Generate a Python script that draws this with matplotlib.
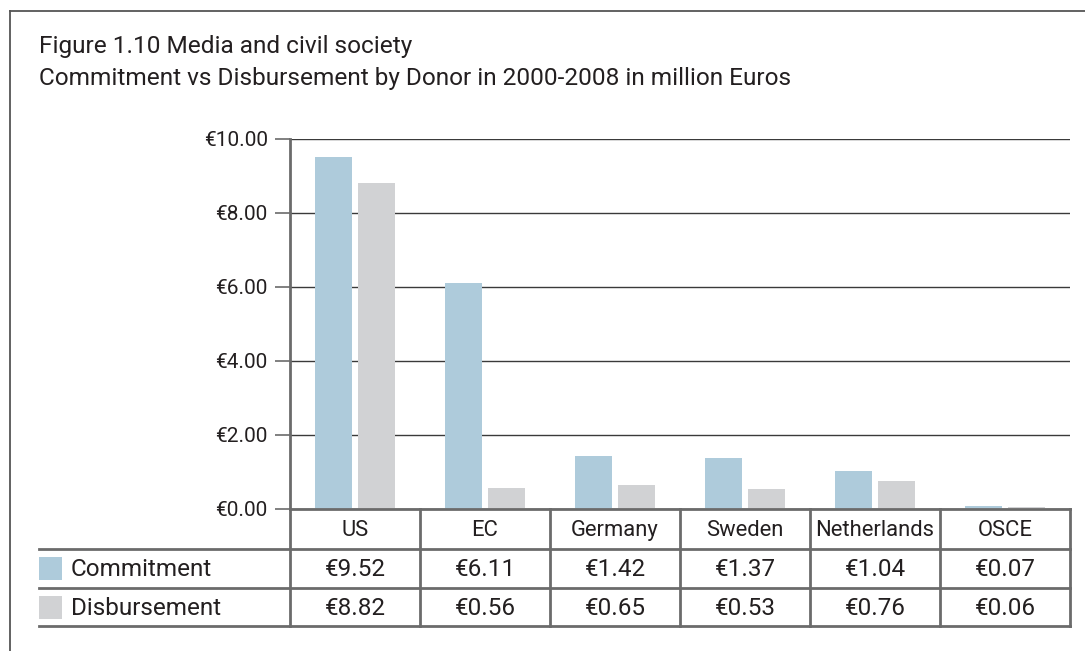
import matplotlib
matplotlib.use("Agg")
import matplotlib.pyplot as plt
from matplotlib.patches import Rectangle
from matplotlib.lines import Line2D

donors = ["US", "EC", "Germany", "Sweden", "Netherlands", "OSCE"]
commitment = [9.52, 6.11, 1.42, 1.37, 1.04, 0.07]
disbursement = [8.82, 0.56, 0.65, 0.53, 0.76, 0.06]
series_names = ["Commitment", "Disbursement"]
yticks = [0, 2, 4, 6, 8, 10]
title1 = "Figure 1.10 Media and civil society"
title2 = "Commitment vs Disbursement by Donor in 2000-2008 in million Euros"

plt.rcParams['font.family'] = ['Roboto', 'DejaVu Sans']
C_COL = "#aecbdb"
D_COL = "#d1d2d4"
LINE = "#6b6b6b"
TXT = "#231f20"

W, H = 1085, 651
fig = plt.figure(figsize=(W / 100, H / 100), dpi=100)

def fx(px):
    return px / W

def fy(py):
    return 1 - py / H

ax_l, ax_r, ax_t, ax_b = 290, 1070, 139, 509
ax = fig.add_axes([fx(ax_l), fy(ax_b), (ax_r - ax_l) / W, (ax_b - ax_t) / H])

n = len(donors)
xs = list(range(n))
bw = 0.29
off = 0.165
ax.bar([x - off for x in xs], commitment, width=bw, color=C_COL, zorder=3)
ax.bar([x + off for x in xs], disbursement, width=bw, color=D_COL, zorder=3)
ax.set_xlim(-0.5, n - 0.5)
ax.set_ylim(0, 10)
ax.set_yticks(yticks)
ax.set_yticklabels([f"€{v:.2f}" for v in yticks], fontsize=15, color=TXT)
ax.yaxis.grid(True, color="#3a3a3a", linewidth=1.0, zorder=0)
ax.set_axisbelow(True)
ax.tick_params(axis='y', length=11, width=1.2, color=LINE, pad=5)
ax.set_xticks([])
for s in ["top", "right", "bottom"]:
    ax.spines[s].set_visible(False)
ax.spines["left"].set_color(LINE)
ax.spines["left"].set_linewidth(2)

# table lines (figure coordinates)
def hline(y, x0, x1, lw=2):
    fig.add_artist(Line2D([fx(x0), fx(x1)], [fy(y), fy(y)], color=LINE, lw=lw))

def vline(x, y0, y1, lw=2):
    fig.add_artist(Line2D([fx(x), fx(x)], [fy(y0), fy(y1)], color=LINE, lw=lw))

rows = [509, 549, 588, 626]
col_w = (ax_r - ax_l) / n
hline(rows[0], ax_l, ax_r)
for r in rows[1:]:
    hline(r, 39, ax_r)
for i in range(n + 1):
    vline(ax_l + i * col_w, rows[0], rows[3])

for i, d in enumerate(donors):
    cx = ax_l + (i + 0.5) * col_w
    fig.text(fx(cx), fy((rows[0] + rows[1]) / 2 + 7), d, ha="center",
             va="baseline", fontsize=15.8, color=TXT)
    fig.text(fx(cx), fy((rows[1] + rows[2]) / 2 + 8), f"€{commitment[i]:.2f}",
             ha="center", va="baseline", fontsize=17.5, color=TXT)
    fig.text(fx(cx), fy((rows[2] + rows[3]) / 2 + 8), f"€{disbursement[i]:.2f}",
             ha="center", va="baseline", fontsize=17.5, color=TXT)

for j, (name, col) in enumerate(zip(series_names, [C_COL, D_COL])):
    y0, y1 = rows[1 + j], rows[2 + j]
    yc = (y0 + y1) / 2
    fig.add_artist(Rectangle((fx(39), fy(yc + 11.5)), 23 / W, 23 / H,
                             transform=fig.transFigure, color=col, lw=0))
    fig.text(fx(71), fy(yc + 8), name, ha="left", va="baseline", fontsize=17.5, color=TXT)

# frame
fig.add_artist(Line2D([fx(10), fx(1085)], [fy(11), fy(11)], color="#555555", lw=1.3))
fig.add_artist(Line2D([fx(10), fx(10)], [fy(11), fy(651)], color="#555555", lw=1.3))

fig.text(fx(39), fy(53), title1, ha="left", va="baseline", fontsize=17.6, color=TXT)
fig.text(fx(39), fy(85), title2, ha="left", va="baseline", fontsize=17.6, color=TXT)

fig.savefig("out.png", dpi=100)
